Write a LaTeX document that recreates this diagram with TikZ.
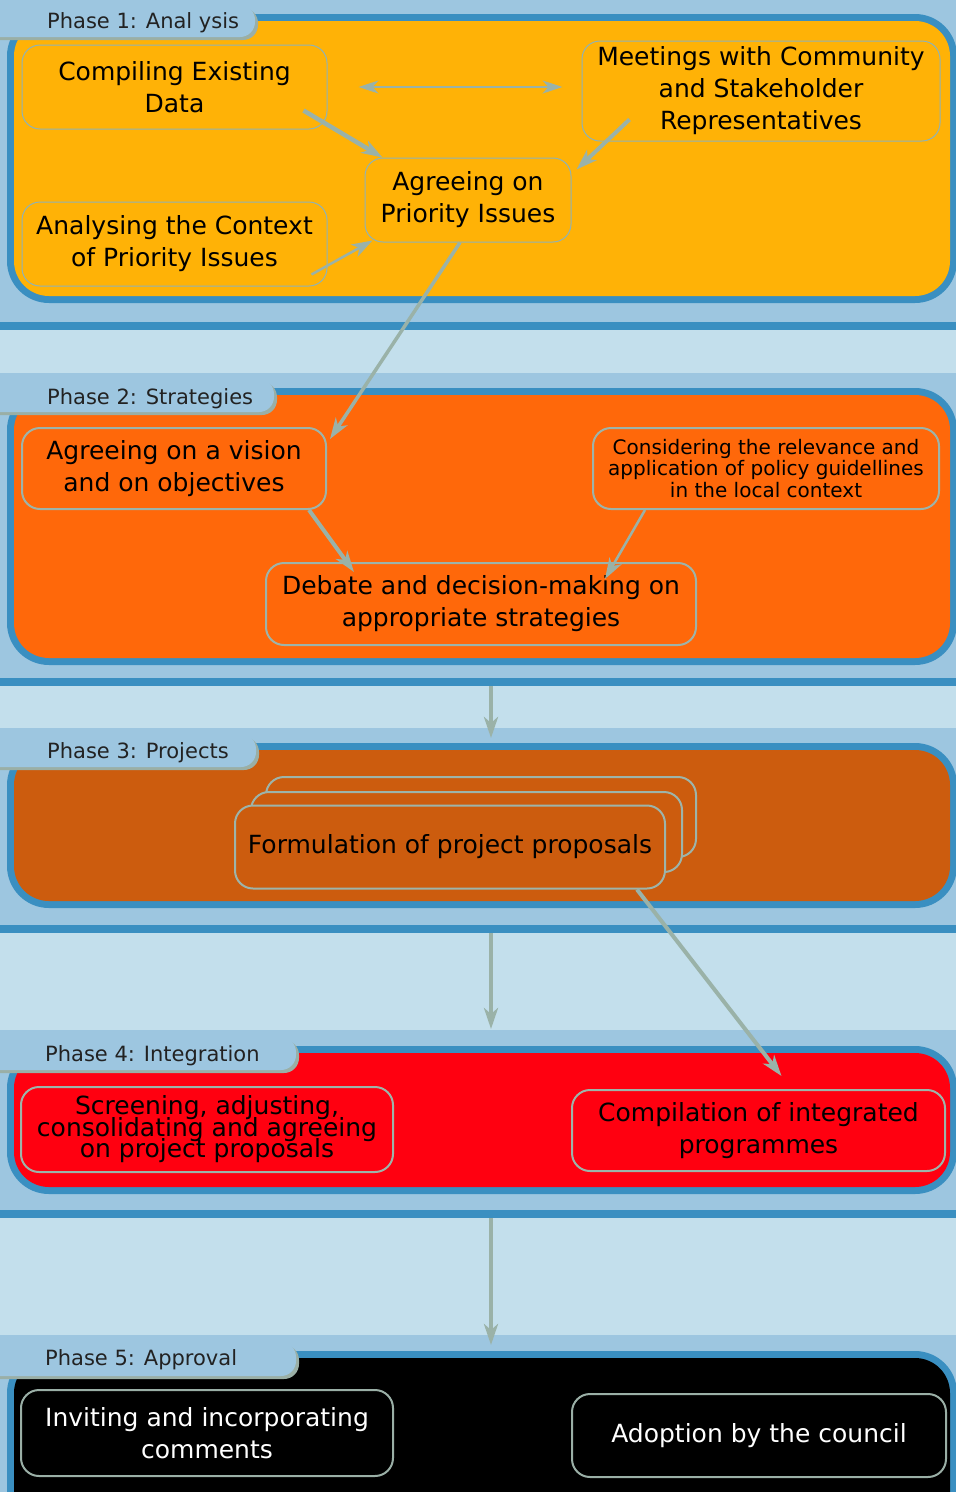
\documentclass[tikz,border=0pt]{standalone}
\usepackage{fontspec}
\setmainfont{DejaVu Sans}
\usetikzlibrary{arrows.meta,calc}
\definecolor{bandc}{HTML}{9DC6E0}
\definecolor{gapc}{HTML}{C3DFEC}
\definecolor{darkc}{HTML}{3A8FC1}
\definecolor{amberc}{HTML}{FFB206}
\definecolor{orangec}{HTML}{FF680A}
\definecolor{rustc}{HTML}{CC5C0E}
\definecolor{redc}{HTML}{FF0010}
\definecolor{arrc}{HTML}{9AB2A8}
\definecolor{thinb}{HTML}{8FB2B6}
\definecolor{nodeb}{HTML}{9DB4AA}
\definecolor{shadc}{HTML}{9AAFA6}
\definecolor{tabtext}{HTML}{222222}
\newcommand{\tightlines}{\lineskiplimit=-100pt\relax\lineskip=0pt\relax}
\tikzset{
  box/.style={draw=nodeb, line width=2pt, rounded corners=18pt, align=center, inner sep=0pt,
    font=\fontsize{25}{32}\selectfont},
  thinbox/.style={box, draw=thinb, line width=1pt},
  tablabel/.style={anchor=west, text=tabtext, inner sep=0pt, font=\fontsize{21}{24}\selectfont},
  tip/.style={-{Stealth[length=21pt,width=14pt,inset=6pt]}},
  arr/.style={draw=arrc, line width=4pt, tip},
  dblarr/.style={draw=arrc, line width=2.5pt, {Stealth[length=20pt,width=13pt,inset=6pt]}-{Stealth[length=20pt,width=13pt,inset=6pt]}},
}
\newcommand{\phaseband}[7]{% top, bottom, outer top, outer bottom, fill colour, tab right, tab bottom
  \fill[bandc] (0,#1) rectangle (956,#2);
  \fill[darkc] (0,#2) rectangle (956,#2+8);
  \fill[darkc, rounded corners=42pt] (7,#3) rectangle (957,#4);
  \fill[#5, rounded corners=35pt] (14,#3+7) rectangle (950,#4-7);
  \fill[shadc, rounded corners=15pt] (-27,#3-6) rectangle (#6+3,#7+3);
  \fill[bandc, rounded corners=15pt] (-30,#3-9) rectangle (#6,#7);
}
\begin{document}
\begin{tikzpicture}[x=1pt,y=-1pt]
\useasboundingbox (0,0) rectangle (956,1492);
\clip (0,0) rectangle (956,1492);
\fill[gapc] (0,0) rectangle (956,1492);

% ---------- Phase bands ----------
\phaseband{0}{322}{14}{303}{amberc}{255}{37}
\phaseband{373}{678}{388}{665}{orangec}{274}{412}
\phaseband{728}{925}{743}{908}{rustc}{256}{767}
\phaseband{1030}{1210}{1046}{1194}{redc}{296}{1070}
\fill[bandc] (0,1335) rectangle (956,1492);
\fill[darkc, rounded corners=42pt] (7,1351) rectangle (957,1540);
\fill[black, rounded corners=35pt] (14,1358) rectangle (950,1533);
\fill[shadc, rounded corners=15pt] (-27,1345) rectangle (299,1379);
\fill[bandc, rounded corners=15pt] (-30,1342) rectangle (296,1376);

% ---------- Tab labels ----------
\node[tablabel] (t1) at (47,23) {Phase 1: Anal ysis};
\node[tablabel] (t2) at (47,399) {Phase 2: Strategies};
\node[tablabel] (t3) at (47,753) {Phase 3: Projects};
\node[tablabel] (t4) at (45,1056) {Phase 4: Integration};
\node[tablabel] (t5) at (45,1360) {Phase 5: Approval};

% ---------- Phase 1 ----------
\node[thinbox, fill=amberc, minimum width=305pt, minimum height=84pt] (compile) at (174.5,87) {Compiling Existing\\Data};
\node[thinbox, fill=amberc, minimum width=358pt, minimum height=100pt] (meet) at (761,91) {Meetings with Community\\and Stakeholder\\Representatives};
\node[thinbox, fill=amberc, minimum width=206pt, minimum height=84pt] (agree) at (468,200) {Agreeing on\\Priority Issues};
\node[thinbox, fill=amberc, minimum width=305pt, minimum height=84pt] (analyse) at (174.5,244) {Analysing the Context\\of Priority Issues};

% ---------- Phase 2 ----------
\node[box, fill=orangec, minimum width=304pt, minimum height=81pt] (vision) at (174,468.5) {Agreeing on a vision\\and on objectives};
\node[box, fill=orangec, minimum width=346pt, minimum height=81pt, font=\fontsize{20}{21.5}\selectfont] (consider) at (766,468.5) {Considering the relevance and\\application of policy guidellines\\in the local context};
\node[box, fill=orangec, minimum width=430pt, minimum height=82pt] (debate) at (481,604) {Debate and decision-making on\\appropriate strategies};

% ---------- Phase 3 ----------
\node[box, fill=rustc, minimum width=430pt, minimum height=80pt] (back) at (481,817) {};
\node[box, fill=rustc, minimum width=431pt, minimum height=80pt] (middle) at (466.5,832) {};
\node[box, fill=rustc, minimum width=430pt, minimum height=83pt] (formulate) at (450,847) {Formulation of project proposals};

% ---------- Phase 4 ----------
\node[box, fill=redc, minimum width=372pt, minimum height=85pt,
  font=\fontsize{25}{21.5}\selectfont\tightlines] (screen) at (207,1129.5) {Screening, adjusting,\\consolidating and agreeing\\on project proposals};
\node[box, fill=redc, minimum width=373pt, minimum height=81pt] (compil) at (758.5,1130.5) {Compilation of integrated\\programmes};

% ---------- Phase 5 ----------
\node[box, draw=shadc, fill=black, text=white, minimum width=372pt, minimum height=86pt] (invite) at (207,1433) {Inviting and incorporating\\comments};
\node[box, draw=shadc, fill=black, text=white, minimum width=374pt, minimum height=83pt] (adopt) at (759,1435.5) {Adoption by the council};

% ---------- Connectors ----------
\draw[dblarr] ([xshift=31pt]compile.east) -- ([xshift=-19pt]meet.west |- compile.east);
\draw[arr, line width=4.5pt] ([shift={(-24,-19)}]compile.south east) -- ([shift={(18,0)}]agree.north west);
\draw[arr] ([shift={(48,-22)}]meet.south west) -- ([shift={(5,12)}]agree.north east);
\draw[arr, line width=2.5pt] ([shift={(-16,-12)}]analyse.south east) -- ([shift={(8,-2)}]agree.south west);
\draw[arr, line width=3.5pt] ([xshift=-8pt]agree.south) -- ([shift={(3,12)}]vision.north east);

\draw[arr] ([xshift=-18pt]vision.south east) -- ([shift={(89,10)}]debate.north west);
\draw[arr, line width=2.5pt] ([xshift=53pt]consider.south west) -- ([shift={(-92,17)}]debate.north east);

\coordinate (s2) at (491,686);
\coordinate (p3) at (491,738);
\draw[arr] (s2) -- (p3);

\coordinate (s3) at (491,933);
\coordinate (p4) at (491,1029);
\draw[arr] (s3) -- (p4);
\draw[arr] ([xshift=-29pt]formulate.south east) -- ([shift={(23,-13)}]compil.north);

\coordinate (s4) at (491,1218);
\coordinate (p5) at (491,1345);
\draw[arr] (s4) -- (p5);
\end{tikzpicture}
\end{document}
